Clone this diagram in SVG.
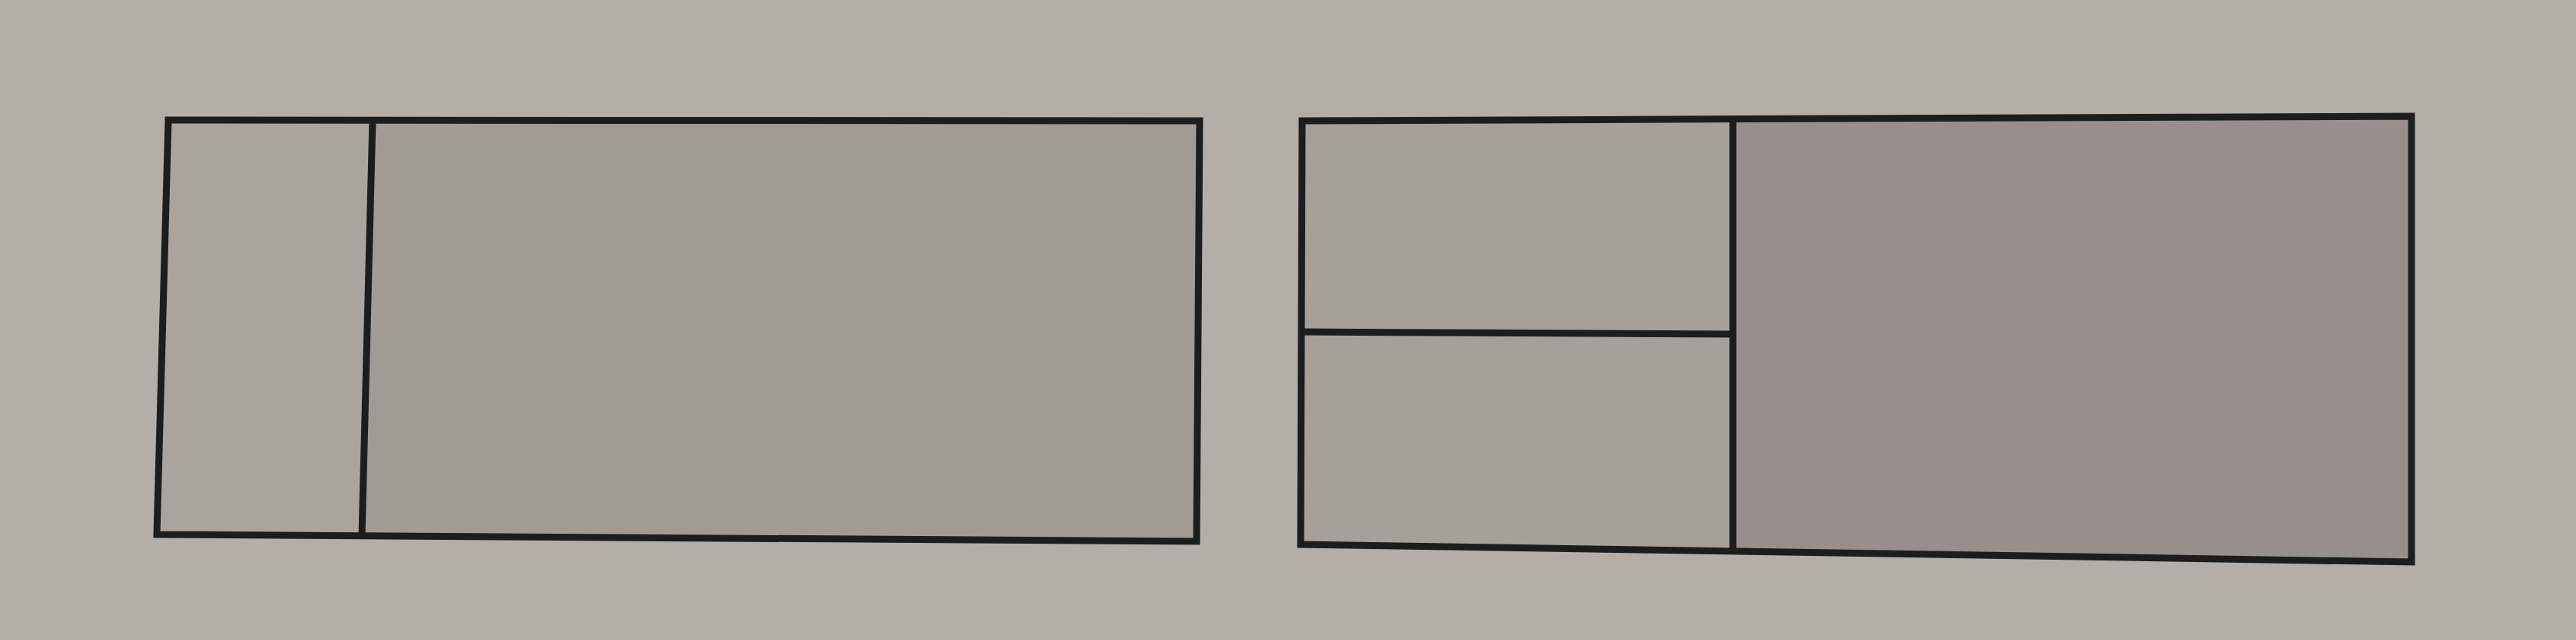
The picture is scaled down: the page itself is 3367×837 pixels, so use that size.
<svg xmlns="http://www.w3.org/2000/svg" width="3367" height="837" viewBox="0 0 3367 837">
<style>
.ln{fill:none;stroke:#1c1d1d;stroke-width:9;stroke-linejoin:miter;stroke-linecap:butt}
.light{fill:#aaa49e}
.light2{fill:#a6a09a}
.mid{fill:#a19b96}
.dark{fill:#978f8b}
</style>
<rect x="0" y="0" width="3367" height="837" fill="#b4aea8"/>
<g id="left-diagram">
<g id="left-narrow-panel">
<polygon class="light" points="220,157 487,157 473,701 205,699"/>
</g>
<g id="left-wide-panel">
<polygon class="mid" points="487,157 1568,158 1564,708 473,701"/>
</g>
<g id="left-outline">
<polygon class="ln" points="220,157 1568,158 1564,708 205,699"/>
<line class="ln" x1="487" y1="157" x2="473" y2="701"/>
</g>
</g>
<g id="right-diagram">
<g id="right-top-panel">
<polygon class="light2" points="1702,158 2265,154 2265,437 1701,434"/>
</g>
<g id="right-bottom-panel">
<polygon class="light2" points="1701,434 2265,437 2265,721 1700,712"/>
</g>
<g id="right-wide-panel">
<polygon class="dark" points="2265,154 3152,152 3152,735 2265,721"/>
</g>
<g id="right-outline">
<polygon class="ln" points="1702,158 3152,152 3152,735 1700,712"/>
<line class="ln" x1="2265" y1="156" x2="2265" y2="719"/>
<line class="ln" x1="1702" y1="434" x2="2263" y2="437"/>
</g>
</g>
<g id="connectors"/>
</svg>
